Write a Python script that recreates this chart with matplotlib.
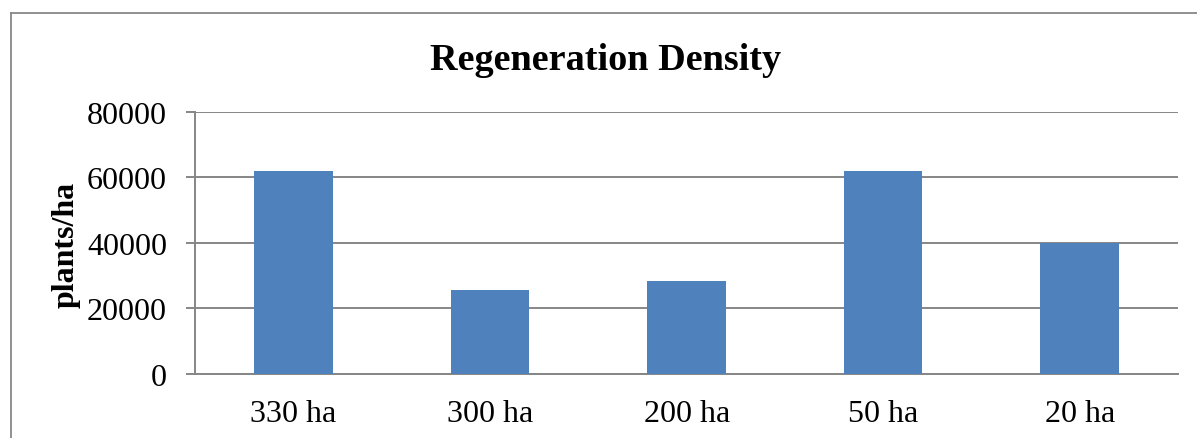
import matplotlib
matplotlib.use("Agg")
import matplotlib.pyplot as plt
from matplotlib.lines import Line2D

categories = ["330 ha", "300 ha", "200 ha", "50 ha", "20 ha"]
values = [62000, 25500, 28500, 62000, 40000]
yticks = [0, 20000, 40000, 60000, 80000]

plt.rcParams['font.family'] = ['Liberation Serif', 'DejaVu Serif']

fig = plt.figure(figsize=(11.97, 4.39), dpi=100)
ax = fig.add_axes([0.1632, 0.1458, 0.9841 - 0.1632, 0.7433 - 0.1458])

x = list(range(len(categories)))
ax.bar(x, values, width=0.4, color="#4F81BD", zorder=3)
ax.set_xlim(-0.5, len(categories) - 0.5)
ax.set_ylim(0, 80000)
ax.set_yticks(yticks)
ax.set_yticklabels([str(v) for v in yticks], fontsize=23)
ax.set_xticks(x)
ax.set_xticklabels(categories, fontsize=23)
ax.yaxis.grid(True, color="#868686", linewidth=1.4, zorder=0)
ax.set_axisbelow(True)
for s in ["top", "right"]:
    ax.spines[s].set_visible(False)
for s in ["left", "bottom"]:
    ax.spines[s].set_color("#868686")
    ax.spines[s].set_linewidth(1.4)
ax.tick_params(axis="y", length=6.5, width=1.4, color="#868686", pad=14)
ax.tick_params(axis="x", length=0, pad=18)

fig.text(66 / 1197, 1 - 245 / 439, "plants/ha", rotation=90, ha="center", va="center",
         fontsize=23, fontweight="bold")

fig.text(0.506, 0.863, "Regeneration Density", ha="center", va="center",
         fontsize=27.5, fontweight="bold")

# outer chart frame
fx0 = 10.5 / 1197
fy1 = 1 - 14 / 439
fig.add_artist(Line2D([fx0, fx0], [0, fy1], color="#888888", linewidth=1.3, transform=fig.transFigure))
fig.add_artist(Line2D([fx0, 1.0], [fy1, fy1], color="#888888", linewidth=1.3, transform=fig.transFigure))

fig.savefig("out.png", dpi=100)
